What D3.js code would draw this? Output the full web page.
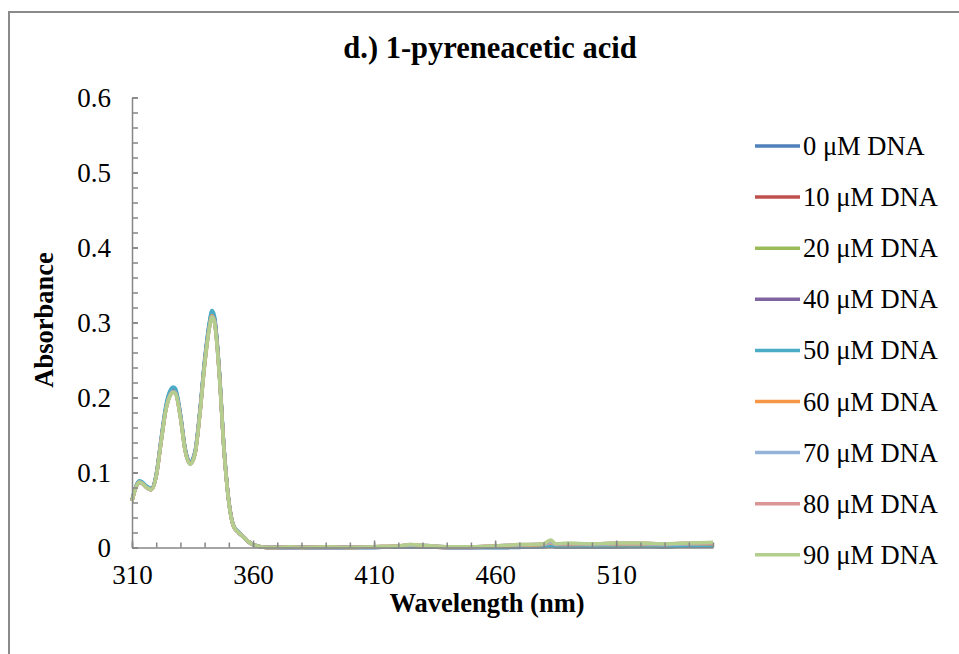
<!DOCTYPE html>
<html>
<head>
<meta charset="utf-8">
<script src="https://cdn.jsdelivr.net/npm/d3@7"></script>
<style>
  body { margin: 0; background: #fff; }
  text { font-family: "Liberation Serif", "Times New Roman", serif; fill: #000; }
</style>
</head>
<body>
<div id="chart"></div>
<script>
// wavelength grid (nm)
const wavelength = [310,312,313,314,316,318,320,322,324,326,
  327,328,330,332,334,336,338,340,342,343,
  344,346,348,350,352,354,356,358,360,363,
  366,370,375,380,390,400,410,420,425,430,
  440,450,460,465,470,475,480,483,485,490,
  500,510,520,530,540,550];

// absorbance per DNA concentration
const abs0 = [.063,.084,.088,.087,.081,.078,.096,.142,.186,.207,
  .210,.208,.176,.130,.113,.126,.179,.247,.298,.312,
  .306,.237,.132,.061,.028,.020,.014,.008,.004,.001,
  .000,.000,.000,.000,.000,.000,.000,.001,.001,.001,
  .000,.000,.000,.000,.000,.001,.001,.002,.001,.001,
  .001,.001,.002,.001,.002,.002];
const abs10 = [.062,.083,.087,.086,.080,.077,.095,.141,.185,.206,
  .209,.207,.175,.129,.112,.125,.178,.246,.297,.311,
  .305,.236,.131,.061,.028,.020,.014,.008,.004,.001,
  .000,.000,.000,.000,.000,.000,.001,.001,.002,.001,
  .000,.000,.001,.001,.001,.002,.002,.003,.002,.002,
  .002,.002,.003,.002,.003,.003];
const abs20 = [.063,.084,.088,.087,.081,.078,.096,.142,.186,.207,
  .210,.208,.176,.130,.113,.126,.179,.247,.298,.312,
  .306,.237,.132,.061,.028,.020,.014,.008,.004,.001,
  .000,.000,.001,.000,.001,.000,.001,.002,.003,.002,
  .001,.001,.001,.002,.002,.003,.003,.005,.003,.003,
  .003,.003,.004,.003,.004,.004];
const abs40 = [.063,.084,.088,.087,.081,.078,.097,.143,.187,.208,
  .211,.209,.177,.131,.113,.127,.180,.248,.299,.313,
  .307,.238,.133,.062,.029,.020,.014,.008,.004,.001,
  .000,.000,.000,.000,.000,.000,.000,.001,.001,.001,
  .000,.000,.000,.000,.001,.001,.001,.002,.001,.001,
  .001,.001,.002,.001,.002,.002];
const abs50 = [.064,.085,.089,.088,.082,.079,.098,.145,.190,.211,
  .214,.212,.179,.132,.114,.128,.182,.251,.302,.316,
  .310,.240,.134,.062,.029,.021,.014,.008,.004,.001,
  .000,.000,.000,.000,.000,.000,.000,.001,.001,.001,
  .000,.000,.000,.000,.001,.001,.001,.002,.001,.001,
  .001,.001,.001,.001,.002,.002];
const abs60 = [.062,.083,.087,.086,.080,.077,.095,.141,.184,.205,
  .208,.206,.174,.129,.112,.125,.177,.245,.295,.309,
  .303,.235,.131,.061,.028,.020,.014,.008,.004,.001,
  .000,.000,.001,.000,.001,.000,.001,.002,.003,.002,
  .001,.001,.002,.002,.003,.003,.004,.006,.004,.004,
  .004,.004,.004,.004,.005,.005];
const abs70 = [.062,.083,.087,.086,.080,.077,.095,.140,.184,.205,
  .208,.206,.174,.128,.111,.125,.177,.244,.294,.308,
  .302,.234,.130,.060,.028,.020,.014,.008,.004,.001,
  .000,.000,.001,.000,.001,.000,.001,.002,.003,.003,
  .001,.001,.002,.003,.003,.004,.004,.007,.004,.005,
  .004,.005,.005,.004,.005,.006];
const abs80 = [.062,.083,.087,.086,.080,.077,.095,.140,.183,.204,
  .207,.205,.173,.128,.111,.124,.176,.243,.293,.307,
  .301,.233,.130,.060,.028,.020,.014,.008,.004,.001,
  .000,.000,.001,.000,.001,.000,.001,.002,.004,.003,
  .001,.001,.002,.003,.004,.004,.005,.009,.005,.005,
  .005,.006,.006,.005,.006,.006];
const abs90 = [.062,.083,.087,.086,.080,.077,.095,.140,.183,.204,
  .207,.205,.173,.128,.111,.124,.176,.243,.293,.307,
  .301,.233,.130,.060,.028,.020,.014,.008,.004,.001,
  .000,.000,.001,.000,.001,.000,.001,.002,.004,.003,
  .001,.001,.002,.003,.004,.004,.005,.010,.005,.006,
  .005,.006,.006,.005,.006,.007];

const seriesNames = ["0 \u03bcM DNA","10 \u03bcM DNA","20 \u03bcM DNA","40 \u03bcM DNA","50 \u03bcM DNA",
  "60 \u03bcM DNA","70 \u03bcM DNA","80 \u03bcM DNA","90 \u03bcM DNA"];
const seriesValues = [abs0, abs10, abs20, abs40, abs50, abs60, abs70, abs80, abs90];
const colors = ["#4F81BD","#C0504D","#9BBB59","#8064A2","#4BACC6","#F79646","#95B3D7","#D99694","#B4CE8E"];

const xMajor = [310,360,410,460,510];
const xMinor = d3.range(310, 551, 10);
const yMajor = [0,0.1,0.2,0.3,0.4,0.5,0.6];
const yMinor = d3.range(0, 0.601, 0.02);

const W = 959, H = 654;
const plot = {left: 132, right: 713, top: 97.5, bottom: 547.5};

const svg = d3.select("#chart").append("svg")
  .attr("width", W).attr("height", H);

// chart frame (only left and top edges visible)
svg.append("path")
  .attr("d", `M9,${H + 5}V12H${W + 5}`)
  .attr("fill", "none").attr("stroke", "#8a8a8a").attr("stroke-width", 2);

const x = d3.scaleLinear().domain([310, 550]).range([plot.left, plot.right]);
const y = d3.scaleLinear().domain([0, 0.6]).range([plot.bottom, plot.top]);

// data lines
const line = d3.line()
  .x((d, i) => x(wavelength[i]))
  .y(d => y(d))
  .curve(d3.curveMonotoneX);

svg.append("g").selectAll("path")
  .data(seriesValues)
  .join("path")
  .attr("d", line)
  .attr("fill", "none")
  .attr("stroke", (d, i) => colors[i])
  .attr("stroke-width", 3.5)
  .attr("stroke-linejoin", "round");

// axes: ticks point inward
const axisColor = "#868686";
const gx = svg.append("g").attr("transform", `translate(0,${plot.bottom})`);
gx.call(d3.axisTop(x).tickValues(xMinor).tickSize(5).tickFormat(""));
gx.call(g => g.select(".domain").remove());
const gx2 = svg.append("g").attr("transform", `translate(0,${plot.bottom})`)
  .call(d3.axisBottom(x).tickValues(xMajor).tickSizeInner(-7).tickSizeOuter(0).tickPadding(17)
    .tickFormat(d3.format("d")));
gx2.selectAll("text").attr("font-size", 27).attr("font-family", "Liberation Serif").attr("fill", "#000");

const gy = svg.append("g").attr("transform", `translate(${plot.left},0)`);
gy.call(d3.axisRight(y).tickValues(yMinor).tickSize(6).tickFormat(""));
gy.call(g => g.select(".domain").remove());
const gy2 = svg.append("g").attr("transform", `translate(${plot.left},0)`)
  .call(d3.axisLeft(y).tickValues(yMajor).tickSizeInner(-6).tickSizeOuter(0).tickPadding(21)
    .tickFormat(d => d === 0 ? "0" : d3.format(".1f")(d)));
gy2.selectAll("text").attr("font-size", 27).attr("font-family", "Liberation Serif").attr("fill", "#000");

svg.selectAll(".domain, .tick line").attr("stroke", axisColor).attr("stroke-width", 1.5);

// titles
svg.append("text")
  .attr("x", 490).attr("y", 58)
  .attr("text-anchor", "middle")
  .attr("font-size", 30.5).attr("font-weight", "bold")
  .text("d.) 1-pyreneacetic acid");

svg.append("text")
  .attr("x", 487).attr("y", 612)
  .attr("text-anchor", "middle")
  .attr("font-size", 26.5).attr("font-weight", "bold")
  .text("Wavelength (nm)");

svg.append("text")
  .attr("transform", "translate(53,320) rotate(-90)")
  .attr("text-anchor", "middle")
  .attr("font-size", 26.5).attr("font-weight", "bold")
  .text("Absorbance");

// legend
const legend = svg.append("g").selectAll("g")
  .data(seriesNames)
  .join("g")
  .attr("transform", (d, i) => `translate(755,${146 + i * 51.1})`);
legend.append("line")
  .attr("x1", 0).attr("x2", 45)
  .attr("stroke", (d, i) => colors[i])
  .attr("stroke-width", 3.5);
legend.append("text")
  .attr("x", 48).attr("y", 9)
  .attr("font-size", 26.5)
  .text(d => d);
</script>
</body>
</html>
